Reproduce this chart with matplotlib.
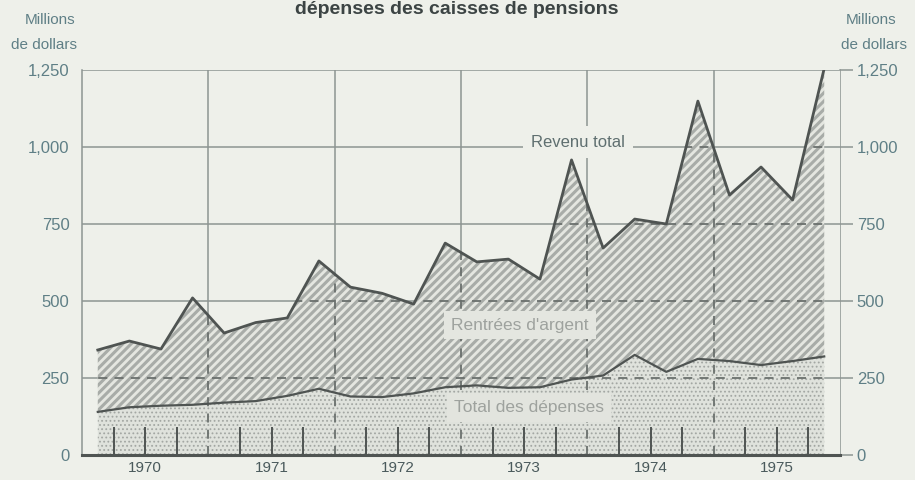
import numpy as np
import matplotlib.pyplot as plt
from matplotlib.patches import Polygon

plt.rcParams['font.family'] = ['Liberation Sans', 'DejaVu Sans']

# quarterly values, 1970 Q1 .. 1975 Q4 (millions de dollars)
years = ['1970', '1971', '1972', '1973', '1974', '1975']
revenu_total = [341, 370, 344, 510, 396, 430, 445, 630,
                545, 525, 490, 688, 627, 636, 571, 958,
                672, 766, 750, 1149, 844, 935, 828, 1255]
total_depenses = [140, 155, 160, 163, 170, 175, 192, 215,
                  190, 188, 200, 220, 226, 218, 220, 245,
                  258, 325, 270, 312, 305, 292, 305, 320]
y_ticks = [0, 250, 500, 750, 1000, 1250]
y_labels = ['0', '250', '500', '750', '1,000', '1,250']

bg = '#eef0ea'
grid_c = '#8d9592'
line_c = '#4f5452'
txt_c = '#5f7f86'

x = np.arange(len(revenu_total)) + 0.5
nq = len(revenu_total)

fig = plt.figure(figsize=(9.15, 4.8), dpi=100, facecolor=bg)
ax = fig.add_axes([82 / 915, 1 - 455 / 480, (840 - 82) / 915, (455 - 70) / 480])
ax.set_facecolor(bg)
ax.set_xlim(0, nq)
ax.set_ylim(0, 1250)

# solid grid behind the fills
for yv in y_ticks[1:]:
    ax.axhline(yv, color=grid_c, lw=1.1, zorder=0)
for xv in range(4, nq, 4):
    ax.axvline(xv, color=grid_c, lw=1.1, zorder=0)

plt.rcParams['hatch.linewidth'] = 2.2
ax.fill_between(x, total_depenses, revenu_total, facecolor='#e4e6e0',
                edgecolor='#a8aca8', hatch='////', lw=0, zorder=1)
plt.rcParams['hatch.linewidth'] = 0.8
ax.fill_between(x, 0, total_depenses, facecolor='#dfe2dc',
                edgecolor='#a3a7a3', hatch='....', lw=0, zorder=1)

# dashed grid inside the filled area
verts = [(x[0], 0)] + list(zip(x, revenu_total)) + [(x[-1], 0)]
clip = Polygon(verts, closed=True, transform=ax.transData)
for yv in y_ticks[1:-1]:
    ln = ax.axhline(yv, color='#6a706d', lw=1.3, ls=(0, (5, 4)), zorder=2)
    ln.set_clip_path(clip)
for xv in range(4, nq, 4):
    ln = ax.axvline(xv, color='#6a706d', lw=1.3, ls=(0, (5, 4)), zorder=2)
    ln.set_clip_path(clip)

ax.plot(x, revenu_total, color=line_c, lw=2.0, zorder=4)
ax.plot(x, total_depenses, color=line_c, lw=1.6, zorder=4)

ax.text(15.7, 1016, 'Revenu total', ha='center', va='center', fontsize=12,
        color='#5f6f70', zorder=5,
        bbox=dict(facecolor=bg, edgecolor='none', pad=6))
ax.text(13.87, 422, "Rentrées d'argent", ha='center', va='center', fontsize=12.5,
        color='#9ea29e', zorder=5,
        bbox=dict(facecolor='#e4e6e0', edgecolor='none', pad=5))
ax.text(14.15, 153, 'Total des dépenses', ha='center', va='center', fontsize=12.5,
        color='#9ea29e', zorder=5,
        bbox=dict(facecolor='#e2e4de', edgecolor='none', pad=5))

# axes and ticks
for s in ['top', 'right']:
    ax.spines[s].set_visible(False)
ax.spines['left'].set_color(grid_c)
ax.spines['left'].set_linewidth(1.1)
ax.spines['bottom'].set_color(line_c)
ax.spines['bottom'].set_linewidth(2.2)

ax.set_yticks(y_ticks)
ax.set_yticklabels(y_labels)
ax.tick_params(axis='y', length=0, pad=9, labelsize=12, labelcolor=txt_c)

ax.xaxis.remove_overlapping_locs = False
ax.set_xticks([2 + 4 * i for i in range(len(years))])
ax.set_xticklabels(years)
ax.set_xticks([q for q in range(1, nq) if q % 4 != 0], minor=True)
ax.tick_params(axis='x', which='major', length=0, pad=4, labelsize=11,
               labelcolor='#4a5a5c')
ax.tick_params(axis='x', which='minor', direction='in', length=20, width=1.4,
               color=line_c)
for t in ax.xaxis.get_minorticklines():
    t.set_zorder(6)

ax2 = ax.twinx()
ax2.set_ylim(0, 1250)
ax2.set_yticks(y_ticks)
ax2.set_yticklabels(y_labels)
ax2.tick_params(axis='y', direction='out', length=9, width=1.1, color=grid_c,
                pad=3, labelsize=12, labelcolor=txt_c)
for s in ['top', 'left', 'bottom']:
    ax2.spines[s].set_visible(False)
ax2.spines['right'].set_color(grid_c)
ax2.spines['right'].set_linewidth(1.1)
ax.set_zorder(ax2.get_zorder() + 1)
ax.patch.set_visible(True)

fig.text(50 / 915, 1 - 20 / 480, 'Millions', ha='center', va='center',
         fontsize=11, color=txt_c)
fig.text(44 / 915, 1 - 45 / 480, 'de dollars', ha='center', va='center',
         fontsize=11, color=txt_c)
fig.text(871 / 915, 1 - 20 / 480, 'Millions', ha='center', va='center',
         fontsize=11, color=txt_c)
fig.text(874 / 915, 1 - 45 / 480, 'de dollars', ha='center', va='center',
         fontsize=11, color=txt_c)
fig.text(457 / 915, 1 - 14 / 480, 'dépenses des caisses de pensions',
         ha='center', va='baseline', fontsize=14, fontweight='bold',
         color='#3c4444')

fig.savefig('out.png', dpi=100, facecolor=bg)
